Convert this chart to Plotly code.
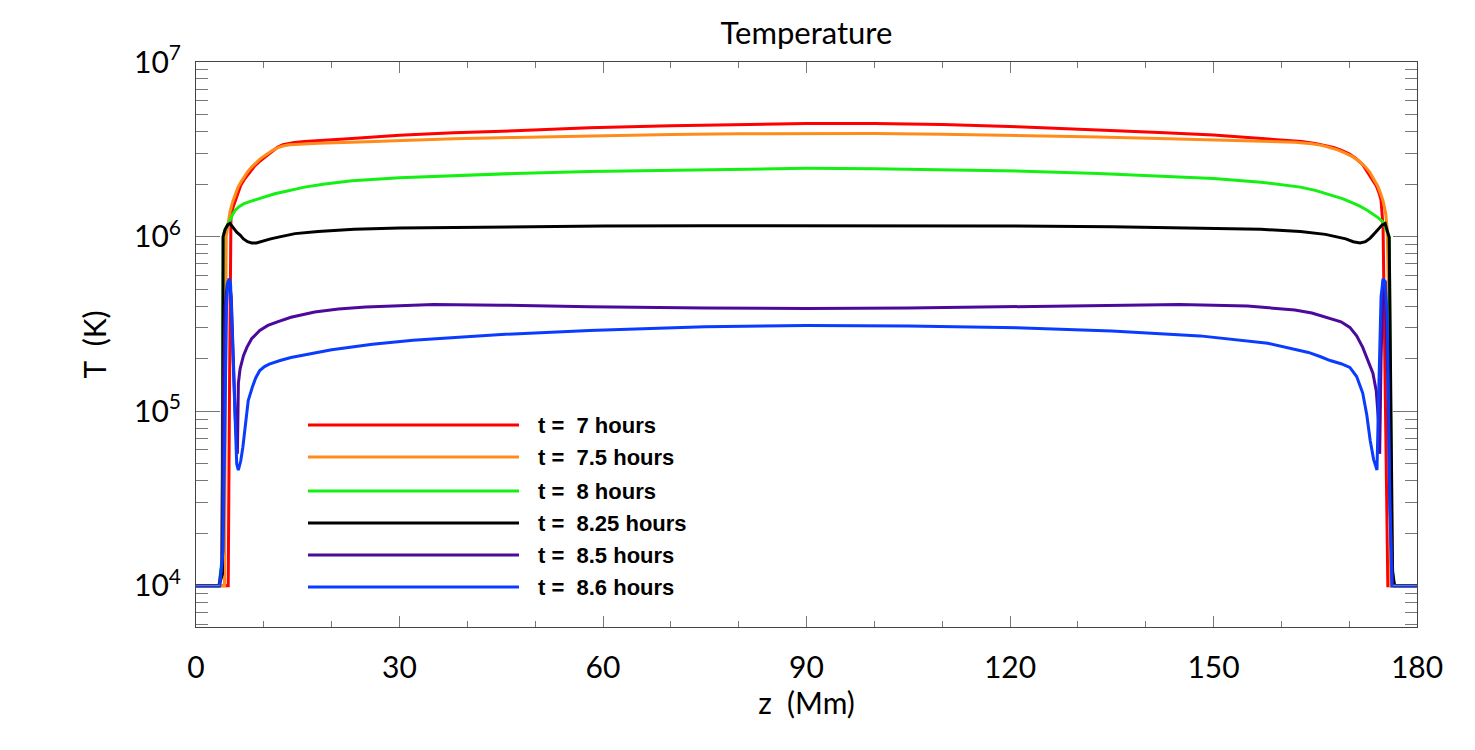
import plotly.graph_objects as go

# ---------------- data ----------------
series_names = ["t = 7 hours", "t = 7.5 hours", "t = 8 hours",
                "t = 8.25 hours", "t = 8.5 hours", "t = 8.6 hours"]
series_colors = ["#ff0000", "#ff8c1a", "#14f014", "#000000", "#4b0a9b", "#0a3cff"]

z_red = [0, 4.75, 4.95, 5.15, 5.4, 5.8, 6.2, 6.6, 7.1, 7.6, 8.2, 8.7, 9.3, 9.9, 10.6, 11.3, 12.0, 12.8,
         13.6, 14.5, 16, 18, 23, 30, 38, 47, 58, 70, 80, 90, 100, 110, 122, 133, 142, 150, 157, 161, 163,
         165, 166.5, 167.7, 168.8, 170, 171, 172, 172.8, 173.5, 174, 174.4, 174.7, 175.0, 175.3, 175.7, 180]
T_red = [1e4, 1e4, 1.5e5, 1.25e6, 1.45e6, 1.62e6, 1.8e6, 1.97e6, 2.12e6, 2.25e6, 2.42e6, 2.55e6, 2.68e6,
         2.8e6, 2.95e6, 3.1e6, 3.25e6, 3.36e6, 3.42e6, 3.46e6, 3.5e6, 3.55e6, 3.65e6, 3.8e6, 3.93e6,
         4.04e6, 4.2e6, 4.31e6, 4.4e6, 4.45e6, 4.44e6, 4.38e6, 4.25e6, 4.1e6, 3.95e6, 3.82e6, 3.65e6,
         3.55e6, 3.5e6, 3.42e6, 3.33e6, 3.24e6, 3.13e6, 2.98e6, 2.8e6, 2.58e6, 2.31e6, 2.1e6, 1.95e6,
         1.78e6, 1.62e6, 1.13e6, 1.5e5, 1e4, 1e4]

z_orange = [0, 4.2, 4.45, 4.7, 5.0, 5.4, 5.8, 6.2, 6.6, 7.1, 7.6, 8.2, 8.7, 9.3, 9.9, 10.6, 11.3, 12.0,
            12.8, 13.8, 15, 18, 23, 30, 38, 47, 58, 70, 80, 90, 100, 110, 122, 133, 142, 150, 157, 162,
            164.5, 166, 167, 168.3, 169.5, 170.5, 171.5, 172.3, 173, 173.6, 174.2, 174.6, 175, 175.4,
            175.6, 175.8, 176.1, 180]
T_orange = [1e4, 1e4, 1.0e6, 1.2e6, 1.38e6, 1.58e6, 1.77e6, 1.92e6, 2.05e6, 2.2e6, 2.35e6, 2.5e6, 2.62e6,
            2.75e6, 2.87e6, 3.0e6, 3.12e6, 3.22e6, 3.3e6, 3.36e6, 3.38e6, 3.43e6, 3.47e6, 3.55e6, 3.63e6,
            3.70e6, 3.78e6, 3.85e6, 3.88e6, 3.9e6, 3.89e6, 3.86e6, 3.8e6, 3.72e6, 3.65e6, 3.59e6, 3.52e6,
            3.47e6, 3.4e6, 3.33e6, 3.25e6, 3.14e6, 3.0e6, 2.87e6, 2.7e6, 2.53e6, 2.35e6, 2.16e6, 1.95e6,
            1.78e6, 1.6e6, 1.35e6, 1.1e6, 5e5, 1e4, 1e4]

z_green = [0, 3.4, 3.8, 4.0, 4.2, 4.6, 5.0, 5.4, 5.8, 6.4, 7.0, 7.8, 8.7, 9.6, 10.5, 11.6, 12.8, 14.5, 16,
           19, 23, 30, 38, 47, 58, 70, 80, 90, 100, 110, 122, 133, 142, 150, 157, 160, 162.8, 165, 167,
           169, 170.5, 171.5, 172.6, 173.5, 174.3, 175.0, 175.5, 175.9, 176.3, 176.6, 180]
T_green = [1e4, 1e4, 1.4e4, 1.0e6, 1.08e6, 1.17e6, 1.24e6, 1.34e6, 1.42e6, 1.49e6, 1.54e6, 1.58e6, 1.62e6,
           1.67e6, 1.71e6, 1.76e6, 1.80e6, 1.87e6, 1.92e6, 2.0e6, 2.09e6, 2.17e6, 2.24e6, 2.30e6, 2.36e6,
           2.40e6, 2.44e6, 2.46e6, 2.45e6, 2.42e6, 2.37e6, 2.3e6, 2.22e6, 2.15e6, 2.05e6, 1.99e6, 1.92e6,
           1.84e6, 1.74e6, 1.65e6, 1.56e6, 1.5e6, 1.42e6, 1.35e6, 1.28e6, 1.21e6, 1.1e6, 1.0e6, 1.4e4,
           1e4, 1e4]

z_black = [0, 3.4, 3.9, 4.0, 4.3, 4.7, 5.0, 5.5, 6.0, 6.5, 7.0, 7.6, 8.2, 8.9, 9.5, 10.3, 11, 12.5, 14.6,
           18, 23.3, 30, 46.6, 60, 75, 90, 105, 120, 135, 150, 157, 162.8, 165, 166.5, 168, 169.5, 170.6,
           171.6, 172.4, 173.1, 173.8, 174.3, 174.8, 175.3, 175.6, 175.9, 176.4, 176.7, 180]
T_black = [1e4, 1e4, 1.17e4, 1.0e6, 1.1e6, 1.17e6, 1.19e6, 1.12e6, 1.06e6, 1.02e6, 9.7e5, 9.35e5, 9.2e5,
           9.2e5, 9.35e5, 9.5e5, 9.7e5, 1.0e6, 1.04e6, 1.07e6, 1.10e6, 1.12e6, 1.14e6, 1.15e6, 1.155e6,
           1.155e6, 1.155e6, 1.15e6, 1.14e6, 1.12e6, 1.1e6, 1.07e6, 1.05e6, 1.03e6, 1.0e6, 9.7e5, 9.35e5,
           9.2e5, 9.35e5, 9.8e5, 1.05e6, 1.1e6, 1.16e6, 1.19e6, 1.1e6, 9.9e5, 1.2e4, 1e4, 1e4]

z_purple = [0, 3.4, 3.8, 4.0, 4.3, 4.6, 4.9, 5.2, 5.5, 5.8, 6.1, 6.25, 6.5, 7.0, 7.5, 8.2, 9.4, 10.6, 12,
            14, 17.5, 21, 25, 35, 45, 58, 75, 90, 105, 122, 135, 145, 155, 160, 162, 164.5, 167.2, 168.8,
            170.1, 171.1, 172.0, 172.8, 173.5, 174.0, 174.3, 174.5, 174.7, 175.0, 175.3, 175.7, 176.0,
            176.4, 180]
T_purple = [1e4, 1e4, 1.3e4, 1.2e5, 4e5, 5.3e5, 5.6e5, 4.5e5, 2e5, 9e4, 5.7e4, 1.45e5, 1.75e5, 2.08e5,
            2.32e5, 2.6e5, 2.9e5, 3.1e5, 3.25e5, 3.45e5, 3.70e5, 3.85e5, 3.95e5, 4.08e5, 4.05e5, 3.96e5,
            3.9e5, 3.87e5, 3.9e5, 3.97e5, 4.05e5, 4.08e5, 4.0e5, 3.88e5, 3.8e5, 3.65e5, 3.4e5, 3.25e5,
            3.02e5, 2.7e5, 2.32e5, 1.95e5, 1.65e5, 1.3e5, 9e4, 5.7e4, 2e5, 5.5e5, 5.5e5, 1.5e5, 3e4, 1e4,
            1e4]

z_blue = [0, 3.5, 4.0, 4.3, 4.5, 4.7, 4.9, 5.1, 5.3, 5.5, 5.8, 6.0, 6.24, 6.6, 6.9, 7.3, 7.7, 8.3, 8.8,
          9.4, 10.1, 10.8, 11.6, 12.4, 14, 16, 20, 26, 32, 45, 58, 75, 90, 105, 122, 135, 148, 158, 161,
          164, 165.8, 167.2, 168.8, 170.1, 171.1, 172.0, 172.6, 173.1, 173.6, 174.1, 174.4, 174.7, 175.0,
          175.3, 175.6, 176.0, 176.3, 180]
T_blue = [1e4, 1e4, 1.6e4, 1e5, 4e5, 5.5e5, 5.75e5, 5.3e5, 3.2e5, 1.5e5, 7e4, 5e4, 4.6e4, 5.2e4, 6.2e4,
          8.8e4, 1.15e5, 1.37e5, 1.55e5, 1.71e5, 1.8e5, 1.86e5, 1.91e5, 1.95e5, 2.03e5, 2.1e5, 2.25e5,
          2.42e5, 2.55e5, 2.75e5, 2.9e5, 3.05e5, 3.1e5, 3.08e5, 3.0e5, 2.88e5, 2.7e5, 2.45e5, 2.3e5,
          2.17e5, 2.05e5, 1.95e5, 1.87e5, 1.78e5, 1.58e5, 1.27e5, 9.5e4, 6.8e4, 5.3e4, 4.6e4, 1.5e5,
          4.5e5, 5.75e5, 5.5e5, 3.5e5, 3e4, 1e4, 1e4]

z_list = [z_red, z_orange, z_green, z_black, z_purple, z_blue]
T_list = [T_red, T_orange, T_green, T_black, T_purple, T_blue]

x_tick_vals = [0, 30, 60, 90, 120, 150, 180]
x_tick_text = ["0", "30", "60", "90", "120", "150", "180"]
y_tick_vals = [1e4, 1e5, 1e6, 1e7]
y_tick_text = ["10<sup>4</sup>", "10<sup>5</sup>", "10<sup>6</sup>", "10<sup>7</sup>"]
y_minor_vals = [m * 10 ** k for k in range(3, 7) for m in range(2, 10)]

# ---------------- layout constants ----------------
W, H = 1475, 750
ML, MR, MT, MB = 196, 58, 62, 123
PW, PH = W - ML - MR, H - MT - MB
legend_rows_px = [425, 457, 491, 523, 555, 587]
leg_x0_px, leg_x1_px, leg_text_px = 308, 519, 536

FONT = "Lato, 'DejaVu Sans', sans-serif"

fig = go.Figure()
for name, color, zs, ts in zip(series_names, series_colors, z_list, T_list):
    fig.add_trace(go.Scatter(x=zs, y=ts, mode="lines", name=name,
                             line=dict(color=color, width=3), showlegend=False))

shapes, annots = [], []
for name, color, ypx in zip(series_names, series_colors, legend_rows_px):
    py = (MT + PH - ypx) / PH
    shapes.append(dict(type="line", xref="paper", yref="paper",
                       x0=(leg_x0_px - ML) / PW, x1=(leg_x1_px - ML) / PW, y0=py, y1=py,
                       line=dict(color=color, width=3)))
    annots.append(dict(xref="paper", yref="paper", x=(leg_text_px - ML) / PW, y=py,
                       xanchor="left", yanchor="middle", showarrow=False,
                       text="<b>" + name.replace("= ", "=  ") + "</b>",
                       font=dict(family="'Liberation Sans', Arial, sans-serif", size=22, color="black")))

axis_common = dict(showline=True, linecolor="#444", linewidth=1, mirror="allticks",
                   ticks="inside", tickcolor="#777", tickwidth=1, showgrid=False, zeroline=False,
                   tickfont=dict(family=FONT, size=30, color="black"))

fig.update_layout(
    width=W, height=H, margin=dict(l=ML, r=MR, t=MT, b=MB),
    paper_bgcolor="white", plot_bgcolor="white",
    title=dict(text="Temperature", x=(ML + PW / 2) / W, xanchor="center", y=1 - 33 / H,
               yanchor="middle", font=dict(family=FONT, size=31, color="black")),
    xaxis=dict(range=[0, 180], tickmode="array", tickvals=x_tick_vals, ticktext=x_tick_text,
               ticklen=11, ticklabelstandoff=14,
               minor=dict(dtick=10, tick0=0, ticklen=6, ticks="inside", tickcolor="#777"),
               title=dict(text="z  (Mm)", standoff=8, font=dict(family=FONT, size=30, color="black")),
               **axis_common),
    yaxis=dict(type="log", range=[3.764, 7.0], tickmode="array", tickvals=y_tick_vals,
               ticktext=y_tick_text, ticklen=24, ticklabelstandoff=8,
               minor=dict(tickmode="array", tickvals=y_minor_vals, ticklen=12, ticks="inside",
                          tickcolor="#777"),
               title=dict(text="T  (K)", standoff=18, font=dict(family=FONT, size=30, color="black")),
               **axis_common),
    shapes=shapes, annotations=annots,
)

fig.write_html("out.html")
